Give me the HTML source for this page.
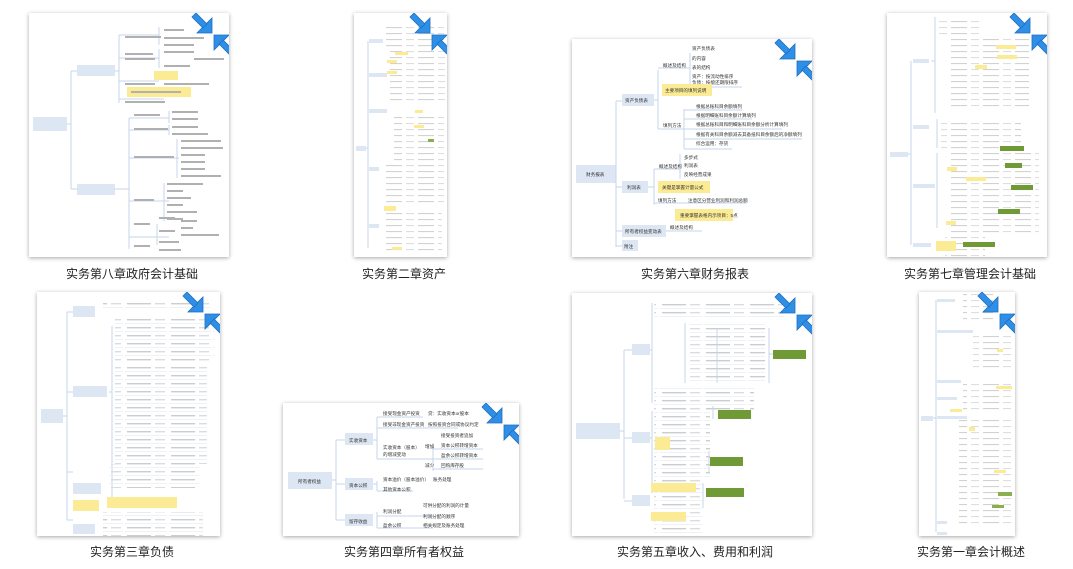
<!DOCTYPE html>
<html><head><meta charset="utf-8">
<style>
html,body{margin:0;padding:0;background:#fff;}
body{width:1073px;height:569px;position:relative;overflow:hidden;font-family:"Liberation Sans","Noto Sans CJK SC",sans-serif;}
.t{position:absolute;background:#fff;box-shadow:0 1px 4px rgba(0,0,0,.35);overflow:hidden;}
.t svg{position:absolute;left:0;top:0;}
.c{position:absolute;font-size:12px;color:#222;white-space:nowrap;transform:translateX(-50%);line-height:14px;}
</style></head><body>
<svg width="0" height="0" style="position:absolute">
<defs>
<pattern id="p1" width="44" height="8" patternUnits="userSpaceOnUse"><rect x="2" y="3" width="24" height="1.4" fill="#cdcdcd"/><rect x="30" y="3" width="10" height="1.4" fill="#dcdcdc"/><rect x="0" y="7" width="42" height=".6" fill="#e1eaf5"/></pattern>
<pattern id="p2" width="32" height="6" patternUnits="userSpaceOnUse"><rect x="0" y="2" width="16" height="1.1" fill="#d2d2d2"/><rect x="20" y="2" width="8" height="1.1" fill="#dedede"/></pattern>
<g id="arr">
<polygon points="20,20 20,5 5,20" fill="#2f8fe6" stroke="#1c6fc2" stroke-width=".8"/>
<polygon points="15,11 4,0 0,4 11,15" fill="#2f8fe6" stroke="#1c6fc2" stroke-width=".8"/>
<polygon points="22,22 37,22 22,37" fill="#2f8fe6" stroke="#1c6fc2" stroke-width=".8"/>
<polygon points="27,31 38,42 42,38 31,27" fill="#2f8fe6" stroke="#1c6fc2" stroke-width=".8"/>
</g>
</defs></svg>

<!-- T1 -->
<div class="t" style="left:29px;top:13px;width:200px;height:244px;">
<svg width="200" height="244" fill="#b0b0b0">
<rect x="4" y="104" width="34" height="14" fill="#dde6f3"/>
<path d="M38 111 H42 M42 58 V176 M42 58 H48 M42 176 H48" stroke="#c6d6ec" fill="none"/>
<rect x="48" y="52" width="38" height="11" fill="#dde6f3"/>
<rect x="48" y="171" width="38" height="11" fill="#dde6f3"/>
<path d="M86 58 H90 M90 22 V90 M90 22 H130 M90 45 H130 M90 68 H130 M90 86 H135 M130 14 V32 M130 36 V55" stroke="#c6d6ec" fill="none"/>
<rect x="96" y="23" width="36" height="2"/><rect x="135" y="16" width="20" height="2"/><rect x="135" y="24" width="40" height="2"/><rect x="135" y="31" width="30" height="2"/>
<rect x="96" y="40" width="28" height="2"/><rect x="96" y="45" width="30" height="2"/><rect x="135" y="38" width="30" height="2"/><rect x="135" y="52" width="26" height="2"/><rect x="165" y="45" width="30" height="2"/>
<rect x="125" y="58" width="24" height="9" fill="#fbeb94"/>
<rect x="96" y="70" width="30" height="2"/><rect x="135" y="70" width="45" height="2"/>
<rect x="98" y="74" width="64" height="10" fill="#fbeb94"/><rect x="102" y="78" width="50" height="2"/>
<rect x="96" y="88" width="40" height="2"/>
<path d="M86 176 H100 M100 105 V236 M100 105 H140 M100 117 H140 M100 145 H150 M100 188 H140 M100 224 H140 M140 98 V110 M140 112 V122 M148 126 V165 M135 170 V208 M128 211 V232" stroke="#c6d6ec" fill="none"/>
<rect x="105" y="101" width="26" height="2"/><rect x="143" y="98" width="26" height="2"/><rect x="143" y="105" width="26" height="2"/>
<rect x="105" y="115" width="34" height="2"/><rect x="143" y="113" width="26" height="2"/><rect x="143" y="120" width="36" height="2"/>
<rect x="105" y="143" width="40" height="2"/>
<rect x="152" y="127" width="40" height="2"/><rect x="152" y="134" width="42" height="2"/><rect x="152" y="141" width="24" height="2"/><rect x="152" y="148" width="24" height="2"/><rect x="152" y="155" width="24" height="2"/><rect x="152" y="162" width="40" height="2"/>
<rect x="105" y="186" width="20" height="2"/>
<rect x="138" y="170" width="36" height="2"/><rect x="138" y="177" width="16" height="2"/><rect x="138" y="184" width="24" height="2"/><rect x="138" y="191" width="16" height="2"/><rect x="138" y="198" width="30" height="2"/><rect x="138" y="205" width="16" height="2"/>
<rect x="105" y="210" width="16" height="2"/><rect x="130" y="204" width="16" height="2"/><rect x="130" y="217" width="16" height="2"/><rect x="152" y="207" width="16" height="2"/><rect x="152" y="214" width="12" height="2"/><rect x="152" y="221" width="38" height="2"/>
<rect x="105" y="232" width="16" height="2"/><rect x="130" y="228" width="20" height="2"/><rect x="130" y="236" width="22" height="2"/>
<g transform="translate(163,0)"><use href="#arr"/></g>
</svg></div>
<div class="c" style="left:132px;top:267px;">实务第八章政府会计基础</div>

<!-- T2 -->
<div class="t" style="left:354px;top:13px;width:93px;height:244px;">
<svg width="93" height="244">
<rect x="2" y="133" width="10" height="5" fill="#dde6f3"/>
<path d="M12 135 H14 M14 28 V235" stroke="#c6d6ec" fill="none"/>
<rect x="15" y="26" width="14" height="4" fill="#dde6f3"/><rect x="15" y="60" width="18" height="4" fill="#dde6f3"/><rect x="15" y="96" width="18" height="4" fill="#dde6f3"/><rect x="15" y="154" width="10" height="4" fill="#dde6f3"/><rect x="15" y="211" width="10" height="4" fill="#dde6f3"/>
<rect x="30" y="10" width="60" height="24" fill="url(#p2)"/>
<rect x="36" y="36" width="55" height="56" fill="url(#p2)"/>
<rect x="40" y="100" width="50" height="50" fill="url(#p2)"/>
<rect x="30" y="150" width="60" height="40" fill="url(#p2)"/>
<rect x="30" y="198" width="58" height="42" fill="url(#p2)"/>
<rect x="41" y="39" width="13" height="3" fill="#fbeb94"/><rect x="33" y="47" width="10" height="3" fill="#fbeb94"/><rect x="33" y="58" width="10" height="3" fill="#fbeb94"/><rect x="61" y="97" width="8" height="3" fill="#fbeb94"/><rect x="60" y="112" width="10" height="3" fill="#fbeb94"/><rect x="74" y="126" width="6" height="3" fill="#8bae4e"/><rect x="30" y="193" width="12" height="5" fill="#fbeb94"/><rect x="38" y="234" width="10" height="3" fill="#fbeb94"/>
<g transform="translate(56,0)"><use href="#arr"/></g>
</svg></div>
<div class="c" style="left:404px;top:267px;">实务第二章资产</div>

<!-- T3 -->
<div class="t" style="left:572px;top:39px;width:240px;height:218px;">
<svg width="240" height="218" font-size="4.6" fill="#333" font-family="Liberation Sans,Noto Sans CJK SC,sans-serif">
<rect x="4" y="126" width="40" height="18" fill="#dde6f3"/><text x="14" y="137">财务报表</text>
<path d="M44 62 V208 M44 62 H50 M44 148 H50 M44 192 H50 M44 207 H50" stroke="#c6d6ec" fill="none"/>
<rect x="50" y="55" width="32" height="12" fill="#dde6f3"/><text x="53" y="63">资产负债表</text>
<rect x="50" y="142" width="26" height="12" fill="#dde6f3"/><text x="55" y="150">利润表</text>
<rect x="50" y="186" width="44" height="12" fill="#dde6f3"/><text x="53" y="194">所有者权益变动表</text>
<rect x="50" y="201" width="16" height="11" fill="#dde6f3"/><text x="52" y="209">附注</text>
<path d="M82 61 H86 M86 31 V90 M86 29 H118 M86 90 H118 M118 14 V48 M118 48 H170 M112 70 V110 M112 71 H170 M112 80 H180 M112 90 H210 M112 100 H230 M112 110 H160" stroke="#c6d6ec" fill="none"/>
<text x="91" y="28">概述及结构</text><text x="120" y="11">资产负债表</text><text x="120" y="21">的内容</text><text x="120" y="30">表的结构</text><text x="120" y="39">资产：按流动性排序</text><text x="120" y="45">负债：按偿还期限排序</text>
<rect x="90" y="45" width="50" height="12" fill="#fbeb94"/><text x="93" y="53">主要项目的填列说明</text>
<text x="91" y="88">填列方法</text>
<text x="124" y="69">根据总账科目余额填列</text><text x="124" y="78">根据明细账科目余额计算填列</text><text x="124" y="87">根据总账科目和明细账科目余额分析计算填列</text><text x="124" y="97">根据有关科目余额减去其备抵科目余额后的净额填列</text><text x="124" y="106">综合运用：存货</text>
<path d="M76 148 H82 M82 130 V166 M82 130 H108 M108 115 V140 M82 164 H175" stroke="#c6d6ec" fill="none"/>
<text x="87" y="129">概述及结构</text><text x="112" y="120">多步式</text><text x="112" y="128">利润表</text><text x="112" y="137">反映经营成果</text>
<rect x="86" y="142" width="52" height="12" fill="#fbeb94"/><text x="90" y="150">关键是掌握计量公式</text>
<text x="86" y="163">填列方法</text><text x="116" y="163">注意区分营业利润和利润总额</text>
<rect x="103" y="170" width="58" height="12" fill="#fbeb94"/><text x="108" y="178">重要掌握表格内示项目：5点</text>
<path d="M94 192 H130" stroke="#c6d6ec"/><text x="98" y="190">概述及结构</text>
<g transform="translate(203,0)"><use href="#arr"/></g>
</svg></div>
<div class="c" style="left:695px;top:267px;">实务第六章财务报表</div>

<!-- T4 -->
<div class="t" style="left:887px;top:13px;width:160px;height:244px;">
<svg width="160" height="244">
<rect x="3" y="139" width="18" height="5" fill="#dde6f3"/>
<path d="M21 141 H24 M24 48 V232" stroke="#c6d6ec" fill="none"/>
<rect x="26" y="46" width="16" height="4" fill="#dde6f3"/><rect x="26" y="112" width="16" height="4" fill="#dde6f3"/><rect x="26" y="171" width="22" height="4" fill="#dde6f3"/><rect x="26" y="230" width="18" height="4" fill="#dde6f3"/>
<path d="M44 48 H48 M48 4 V100 M50 106 V135 M50 140 V215" stroke="#c6d6ec" fill="none"/>
<rect x="52" y="4" width="40" height="20" fill="url(#p2)"/>
<rect x="62" y="26" width="80" height="70" fill="url(#p2)"/>
<rect x="54" y="106" width="80" height="30" fill="url(#p2)"/>
<rect x="62" y="140" width="90" height="80" fill="url(#p2)"/>
<rect x="58" y="224" width="40" height="20" fill="url(#p2)"/>
<rect x="109" y="32" width="20" height="4" fill="#fbeb94"/><rect x="110" y="42" width="20" height="4" fill="#fbeb94"/><rect x="88" y="52" width="12" height="4" fill="#fbeb94"/>
<rect x="113" y="133" width="24" height="5" fill="#6f9a35"/><rect x="118" y="150" width="17" height="5" fill="#6f9a35"/><rect x="124" y="172" width="22" height="5" fill="#6f9a35"/><rect x="111" y="196" width="22" height="5" fill="#6f9a35"/><rect x="76" y="229" width="32" height="5" fill="#6f9a35"/>
<rect x="60" y="154" width="10" height="4" fill="#fbeb94"/><rect x="79" y="164" width="20" height="4" fill="#fbeb94"/><rect x="59" y="208" width="10" height="4" fill="#fbeb94"/><rect x="49" y="228" width="20" height="10" fill="#fbeb94"/>
<g transform="translate(123,0)"><use href="#arr"/></g>
</svg></div>
<div class="c" style="left:970px;top:267px;">实务第七章管理会计基础</div>

<!-- T5 -->
<div class="t" style="left:37px;top:292px;width:183px;height:244px;">
<svg width="183" height="244">
<rect x="4" y="117" width="22" height="14" fill="#dde6f3"/>
<path d="M26 124 H30 M30 20 V228 M30 20 H36 M30 100 H36 M30 180 H36 M30 228 H36" stroke="#c6d6ec" fill="none"/>
<rect x="36" y="14" width="22" height="11" fill="#dde6f3"/><rect x="36" y="94" width="34" height="11" fill="#dde6f3"/><rect x="36" y="191" width="28" height="11" fill="#dde6f3"/><rect x="36" y="232" width="22" height="10" fill="#dde6f3"/>
<rect x="36" y="208" width="26" height="11" fill="#fbeb94"/>
<rect x="66" y="8" width="110" height="10" fill="url(#p1)"/>
<path d="M72 100 H75 M75 34 V210" stroke="#c6d6ec" fill="none"/>
<rect x="78" y="26" width="100" height="44" fill="url(#p1)"/>
<rect x="78" y="72" width="92" height="100" fill="url(#p1)"/>
<rect x="72" y="172" width="90" height="24" fill="url(#p1)"/>
<rect x="70" y="205" width="70" height="11" fill="#fbeb94"/>
<rect x="66" y="220" width="100" height="24" fill="url(#p1)"/>
<g transform="translate(146,0)"><use href="#arr"/></g>
</svg></div>
<div class="c" style="left:132px;top:545px;">实务第三章负债</div>

<!-- T6 -->
<div class="t" style="left:283px;top:403px;width:236px;height:133px;">
<svg width="236" height="133" font-size="4.6" fill="#333" font-family="Liberation Sans,Noto Sans CJK SC,sans-serif">
<rect x="5" y="69" width="44" height="17" fill="#dde6f3"/><text x="15" y="80">所有者权益</text>
<path d="M49 77 H53 M53 37 V117 M53 37 H62 M53 81 H62 M53 117 H62" stroke="#c6d6ec" fill="none"/>
<rect x="62" y="30" width="28" height="12" fill="#dde6f3"/><text x="66" y="39">实收资本</text>
<rect x="62" y="75" width="28" height="12" fill="#dde6f3"/><text x="66" y="84">资本公积</text>
<rect x="62" y="111" width="28" height="12" fill="#dde6f3"/><text x="66" y="120">留存收益</text>
<path d="M90 37 H94 M94 14 V56 M94 14 H140 M94 25 H175 M94 56 H150 M150 40 V68 M150 46 H200 M150 56 H200 M150 66 H200 M90 81 H94 M94 78 V88 M94 88 H130 M94 109 V125 M94 113 H150 M94 125 H150" stroke="#c6d6ec" fill="none"/>
<text x="100" y="12">接受现金资产投资</text><text x="145" y="12">贷：实收资本or股本</text>
<text x="100" y="23">接受非现金资产投资</text><text x="145" y="23">按照投资合同或协议约定</text>
<text x="100" y="46">实收资本（股本）</text><text x="100" y="53">的增减变动</text>
<text x="142" y="45">增加</text><text x="142" y="64">减少</text>
<text x="158" y="34">接受投资者追加</text><text x="158" y="44">资本公积转增资本</text><text x="158" y="54">盈余公积转增资本</text><text x="158" y="64">回购库存股</text>
<text x="100" y="78">资本溢价（股本溢价）</text><text x="150" y="78">账务处理</text><text x="100" y="88">其他资本公积</text>
<text x="100" y="110">利润分配</text><text x="140" y="104">可供分配的利润的计量</text><text x="140" y="115">利润分配的顺序</text>
<text x="100" y="124">盈余公积</text><text x="140" y="124">相关规定及账务处理</text>
<g transform="translate(199,0)"><use href="#arr"/></g>
</svg></div>
<div class="c" style="left:404px;top:545px;">实务第四章所有者权益</div>

<!-- T7 -->
<div class="t" style="left:572px;top:293px;width:240px;height:243px;">
<svg width="240" height="243">
<rect x="4" y="130" width="44" height="16" fill="#dde6f3"/>
<path d="M48 138 H52 M52 57 V206 M52 57 H60 M52 145 H60 M52 208 H60" stroke="#c6d6ec" fill="none"/>
<rect x="60" y="51" width="18" height="11" fill="#dde6f3"/><rect x="60" y="139" width="18" height="11" fill="#dde6f3"/><rect x="60" y="202" width="18" height="11" fill="#dde6f3"/>
<path d="M78 57 H80 M80 10 V110 M113 30 V90 M145 35 V90 M197 35 V90 M197 61 H201" stroke="#c6d6ec" fill="none"/>
<rect x="82" y="8" width="130" height="18" fill="url(#p1)"/>
<rect x="118" y="30" width="75" height="60" fill="url(#p1)"/>
<rect x="82" y="95" width="100" height="22" fill="url(#p1)"/>
<rect x="201" y="57" width="33" height="9" fill="#6f9a35"/>
<path d="M78 145 H80 M80 118 V200 M141 113 V126 M137 158 V180 M131 190 V215" stroke="#c6d6ec" fill="none"/>
<rect x="82" y="116" width="56" height="70" fill="url(#p1)"/>
<rect x="146" y="117" width="33" height="9" fill="#6f9a35"/>
<rect x="138" y="164" width="33" height="9" fill="#6f9a35"/>
<rect x="134" y="195" width="38" height="9" fill="#6f9a35"/>
<rect x="83" y="144" width="15" height="13" fill="#fbeb94"/>
<rect x="82" y="186" width="48" height="58" fill="url(#p1)"/>
<rect x="79" y="190" width="45" height="9" fill="#fbeb94"/>
<rect x="79" y="219" width="35" height="9" fill="#fbeb94"/>
<g transform="translate(203,0)"><use href="#arr"/></g>
</svg></div>
<div class="c" style="left:695px;top:545px;">实务第五章收入、费用和利润</div>

<!-- T8 -->
<div class="t" style="left:919px;top:292px;width:96px;height:244px;">
<svg width="96" height="244">
<rect x="2" y="124" width="12" height="5" fill="#dde6f3"/>
<path d="M14 126 H17 M17 8 V240" stroke="#c6d6ec" fill="none"/>
<rect x="18" y="7" width="18" height="3" fill="#dde6f3"/><rect x="18" y="38" width="36" height="3" fill="#dde6f3"/><rect x="18" y="88" width="24" height="3" fill="#dde6f3"/><rect x="18" y="105" width="20" height="3" fill="#dde6f3"/><rect x="18" y="124" width="30" height="3" fill="#dde6f3"/><rect x="18" y="229" width="10" height="3" fill="#dde6f3"/><rect x="18" y="240" width="10" height="3" fill="#dde6f3"/>
<rect x="44" y="2" width="30" height="30" fill="url(#p2)"/>
<rect x="54" y="40" width="40" height="40" fill="url(#p2)"/>
<rect x="44" y="90" width="48" height="30" fill="url(#p2)"/>
<rect x="40" y="125" width="54" height="110" fill="url(#p2)"/>
<rect x="77" y="94" width="16" height="3" fill="#fbeb94"/><rect x="31" y="117" width="12" height="3" fill="#fbeb94"/><rect x="50" y="135" width="6" height="4" fill="#fbeb94"/><rect x="75" y="178" width="12" height="3" fill="#fbeb94"/><rect x="79" y="200" width="14" height="4" fill="#8bae4e"/><rect x="73" y="213" width="12" height="3" fill="#8bae4e"/><rect x="78" y="57" width="6" height="3" fill="#fbeb94"/>
<g transform="translate(59,0)"><use href="#arr"/></g>
</svg></div>
<div class="c" style="left:971px;top:545px;">实务第一章会计概述</div>
</body></html>
